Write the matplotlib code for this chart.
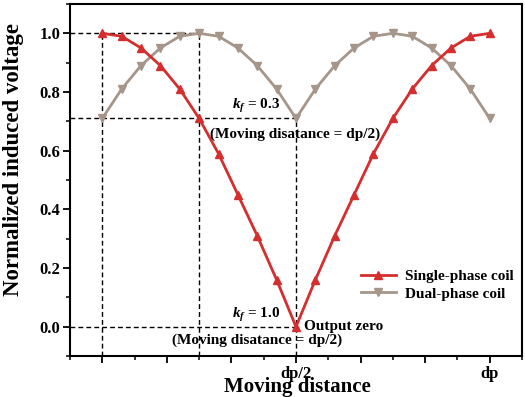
import numpy as np
import matplotlib
matplotlib.use('Agg')
import matplotlib.pyplot as plt
from matplotlib.ticker import FixedLocator, MultipleLocator

plt.rcParams['font.family'] = ['Liberation Serif', 'DejaVu Serif']
plt.rcParams['font.weight'] = 'bold'
plt.rcParams['mathtext.fontset'] = 'custom'
plt.rcParams['mathtext.it'] = 'Liberation Serif:italic:bold'
plt.rcParams['mathtext.rm'] = 'Liberation Serif:bold'

# moving distance as a fraction of dp
position = [0.00, 0.05, 0.10, 0.15, 0.20, 0.25, 0.30, 0.35, 0.40, 0.45, 0.50,
            0.55, 0.60, 0.65, 0.70, 0.75, 0.80, 0.85, 0.90, 0.95, 1.00]
single_phase = [1.00, 0.99, 0.95, 0.89, 0.81, 0.71, 0.59, 0.45, 0.31, 0.16, 0.00,
                0.16, 0.31, 0.45, 0.59, 0.71, 0.81, 0.89, 0.95, 0.99, 1.00]
dual_phase = [0.71, 0.81, 0.89, 0.95, 0.99, 1.00, 0.99, 0.95, 0.89, 0.81, 0.71,
              0.81, 0.89, 0.95, 0.99, 1.00, 0.99, 0.95, 0.89, 0.81, 0.71]

x_ticks = [0, 1/6, 2/6, 3/6, 4/6, 5/6, 1]
x_ticklabels = ['', '', '', 'dp/2', '', '', 'dp']
y_ticks = [0.0, 0.2, 0.4, 0.6, 0.8, 1.0]

red = '#d42e2e'
grey = '#a69589'

fig = plt.figure(figsize=(5.25, 3.97), dpi=100)
ax = fig.add_axes([0.1333, 0.103, 0.861, 0.887])

xmin, xmax = -1/12, 13/12
ymin, ymax = -0.1, 1.1

# guide lines
dash = dict(color='black', lw=1, ls=(0, (3.5, 2.2)), zorder=1)
ax.plot([xmin, 0.25], [1.0, 1.0], **dash)
ax.plot([0, 0], [ymin, 1.0], **dash)
ax.plot([0.25, 0.25], [ymin, 1.0], **dash)
ax.plot([xmin, 0.5], [dual_phase[10], dual_phase[10]], **dash)
ax.plot([0.5, 0.5], [ymin, dual_phase[10]], **dash)
ax.plot([xmin, 0.5], [0, 0], **dash)

ax.plot(position, single_phase, color=red, lw=2, marker='^', ms=5.5,
        label='Single-phase coil', zorder=3)
ax.plot(position, dual_phase, color=grey, lw=2, marker='v', ms=5.5,
        label='Dual-phase coil', zorder=2)

ax.set_xlim(xmin, xmax)
ax.set_ylim(ymin, ymax)

ax.xaxis.set_major_locator(FixedLocator(x_ticks))
ax.set_xticklabels(x_ticklabels)
ax.xaxis.set_minor_locator(MultipleLocator(1/12))
ax.set_yticks(y_ticks)
ax.set_yticklabels(['%.1f' % v for v in y_ticks])
ax.yaxis.set_minor_locator(MultipleLocator(0.1))

ax.tick_params(which='major', direction='out', length=5, width=1.3, labelsize=12, pad=2)
ax.tick_params(which='minor', direction='out', length=3, width=1.1)
for s in ax.spines.values():
    s.set_linewidth(1.5)

ax.set_xlabel('Moving distance', fontsize=15, fontweight='bold')
ax.set_ylabel('Normalized induced voltage', fontsize=16.5, fontweight='bold')
ax.xaxis.set_label_coords(0.503, -0.058)
ax.yaxis.set_label_coords(-0.102, 0.557)

# annotations
ax.text(0.335, 0.72, r'$k_f$ = 0.3', fontsize=11, fontweight='bold', ha='left', va='bottom')
ax.text(0.497, 0.655, '(Moving disatance = dp/2)', fontsize=11, fontweight='bold', ha='center', va='center')
ax.text(0.335, 0.01, r'$k_f$ = 1.0', fontsize=11, fontweight='bold', ha='left', va='bottom')
ax.text(0.52, 0.0, 'Output zero', fontsize=11, fontweight='bold', ha='left', va='center')
ax.text(0.4, -0.045, '(Moving disatance = dp/2)', fontsize=11, fontweight='bold', ha='center', va='center')

ax.legend(loc='center left', bbox_to_anchor=(0.613, 0.202), frameon=False,
          prop={'size': 11, 'weight': 'bold'}, handlelength=2.3,
          handletextpad=0.6, labelspacing=0.25)

fig.savefig('out.png', dpi=100)
